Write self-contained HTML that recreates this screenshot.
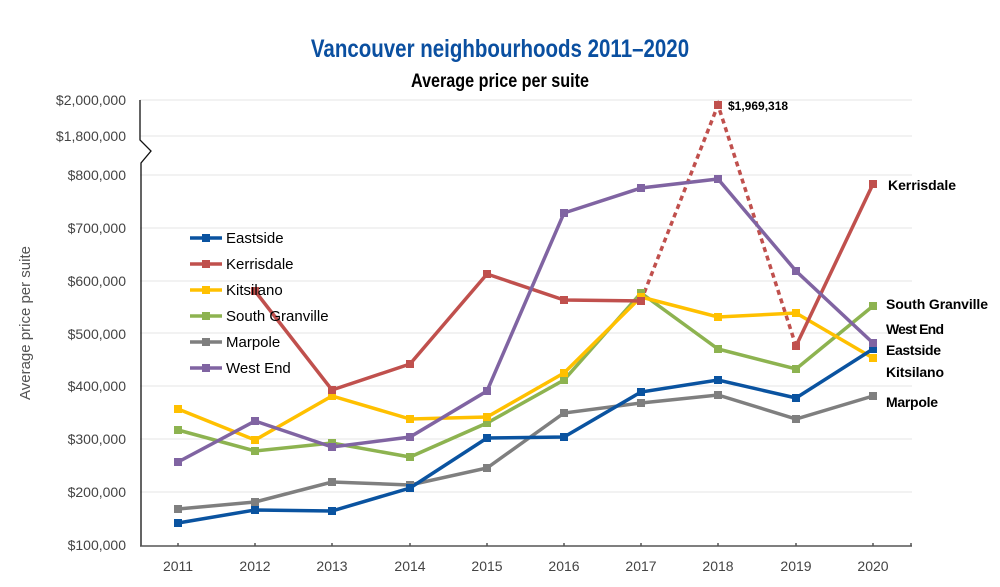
<!DOCTYPE html>
<html><head><meta charset="utf-8"><style>body{margin:0;background:#fff}svg{display:block;font-family:"Liberation Sans",sans-serif}</style></head><body>
<svg width="1000" height="587" viewBox="0 0 1000 587">
<text x="500" y="57" text-anchor="middle" font-size="25" font-weight="bold" fill="#0a4fa0" transform="translate(500 0) scale(0.82 1) translate(-500 0)">Vancouver neighbourhoods 2011–2020</text>
<text x="500" y="87" text-anchor="middle" font-size="19" font-weight="bold" fill="#000" transform="translate(500 0) scale(0.85 1) translate(-500 0)">Average price per suite</text>
<text transform="translate(30 323) rotate(-90)" text-anchor="middle" font-size="15" fill="#555">Average price per suite</text>
<g stroke="#e6e6e6" stroke-width="1">
<line x1="140" y1="100" x2="912" y2="100"/><line x1="140" y1="136" x2="912" y2="136"/><line x1="140" y1="175" x2="912" y2="175"/><line x1="140" y1="228" x2="912" y2="228"/><line x1="140" y1="281" x2="912" y2="281"/><line x1="140" y1="333" x2="912" y2="333"/><line x1="140" y1="386" x2="912" y2="386"/><line x1="140" y1="439" x2="912" y2="439"/><line x1="140" y1="492" x2="912" y2="492"/>
</g>
<g font-size="14" fill="#444" text-anchor="end">
<text x="126" y="105">$2,000,000</text><text x="126" y="141">$1,800,000</text>
<text x="126" y="180">$800,000</text><text x="126" y="233">$700,000</text><text x="126" y="286">$600,000</text>
<text x="126" y="339">$500,000</text><text x="126" y="391">$400,000</text><text x="126" y="444">$300,000</text>
<text x="126" y="497">$200,000</text><text x="126" y="550">$100,000</text>
</g>
<path d="M140 100 L140 140 L151 151 L141 163 L141 546" stroke="#111" stroke-width="1.3" fill="none"/>
<g stroke="#555" stroke-width="1.5"><line x1="140" y1="546" x2="912" y2="546"/>
<path d="M178 546v-3M255 546v-3M332 546v-3M410 546v-3M487 546v-3M564 546v-3M641 546v-3M718 546v-3M796 546v-3M873 546v-3M911 546v-3"/></g>
<g font-size="14" fill="#444" text-anchor="middle">
<text x="178" y="571">2011</text><text x="255" y="571">2012</text><text x="332" y="571">2013</text><text x="410" y="571">2014</text><text x="487" y="571">2015</text><text x="564" y="571">2016</text><text x="641" y="571">2017</text><text x="718" y="571">2018</text><text x="796" y="571">2019</text><text x="873" y="571">2020</text>
</g>
<g fill="none" stroke-width="3.5">
<polyline stroke="#7f7f7f" points="178,509 255,502 332,482 410,485 487,468 564,413 641,403 718,395 796,419 873,396"/>
<polyline stroke="#8db350" points="178,430 255,451 332,443 410,457 487,423 564,380 641,293 718,349 796,369 873,306"/>
<polyline stroke="#ffc000" points="178,409 255,440 332,396 410,419 487,417 564,373 641,297 718,317 796,313 873,358"/>
<polyline stroke="#0a53a0" points="178,523 255,510 332,511 410,488 487,438 564,437 641,392 718,380 796,398 873,349"/>
<polyline stroke="#c0504d" points="255,291 332,390 410,364 487,274 564,300 641,301"/>
<polyline stroke="#c0504d" stroke-dasharray="5,4" points="641,301 718,105 796,346"/>
<polyline stroke="#c0504d" points="796,346 873,184"/>
<polyline stroke="#8064a2" points="178,462 255,421 332,447 410,437 487,391 564,213 641,188 718,179 796,271 873,343"/>
</g>
<g>
<g fill="#7f7f7f"><rect x="174" y="505" width="8" height="8"/><rect x="251" y="498" width="8" height="8"/><rect x="328" y="478" width="8" height="8"/><rect x="406" y="481" width="8" height="8"/><rect x="483" y="464" width="8" height="8"/><rect x="560" y="409" width="8" height="8"/><rect x="637" y="399" width="8" height="8"/><rect x="714" y="391" width="8" height="8"/><rect x="792" y="415" width="8" height="8"/><rect x="869" y="392" width="8" height="8"/></g>
<g fill="#8db350"><rect x="174" y="426" width="8" height="8"/><rect x="251" y="447" width="8" height="8"/><rect x="328" y="439" width="8" height="8"/><rect x="406" y="453" width="8" height="8"/><rect x="483" y="419" width="8" height="8"/><rect x="560" y="376" width="8" height="8"/><rect x="637" y="289" width="8" height="8"/><rect x="714" y="345" width="8" height="8"/><rect x="792" y="365" width="8" height="8"/><rect x="869" y="302" width="8" height="8"/></g>
<g fill="#ffc000"><rect x="174" y="405" width="8" height="8"/><rect x="251" y="436" width="8" height="8"/><rect x="328" y="392" width="8" height="8"/><rect x="406" y="415" width="8" height="8"/><rect x="483" y="413" width="8" height="8"/><rect x="560" y="369" width="8" height="8"/><rect x="637" y="293" width="8" height="8"/><rect x="714" y="313" width="8" height="8"/><rect x="792" y="309" width="8" height="8"/><rect x="869" y="354" width="8" height="8"/></g>
<g fill="#0a53a0"><rect x="174" y="519" width="8" height="8"/><rect x="251" y="506" width="8" height="8"/><rect x="328" y="507" width="8" height="8"/><rect x="406" y="484" width="8" height="8"/><rect x="483" y="434" width="8" height="8"/><rect x="560" y="433" width="8" height="8"/><rect x="637" y="388" width="8" height="8"/><rect x="714" y="376" width="8" height="8"/><rect x="792" y="394" width="8" height="8"/><rect x="869" y="345" width="8" height="8"/></g>
<g fill="#c0504d"><rect x="251" y="287" width="8" height="8"/><rect x="328" y="386" width="8" height="8"/><rect x="406" y="360" width="8" height="8"/><rect x="483" y="270" width="8" height="8"/><rect x="560" y="296" width="8" height="8"/><rect x="637" y="297" width="8" height="8"/><rect x="714" y="101" width="8" height="8"/><rect x="792" y="342" width="8" height="8"/><rect x="869" y="180" width="8" height="8"/></g>
<g fill="#8064a2"><rect x="174" y="458" width="8" height="8"/><rect x="251" y="417" width="8" height="8"/><rect x="328" y="443" width="8" height="8"/><rect x="406" y="433" width="8" height="8"/><rect x="483" y="387" width="8" height="8"/><rect x="560" y="209" width="8" height="8"/><rect x="637" y="184" width="8" height="8"/><rect x="714" y="175" width="8" height="8"/><rect x="792" y="267" width="8" height="8"/><rect x="869" y="339" width="8" height="8"/></g>
</g>
<text x="728" y="110" font-size="12" font-weight="bold">$1,969,318</text>
<g font-size="14" font-weight="bold" fill="#000">
<text x="888" y="190" textLength="68">Kerrisdale</text><text x="886" y="309" textLength="102">South Granville</text><text x="886" y="334" textLength="58">West End</text>
<text x="886" y="355" textLength="55">Eastside</text><text x="886" y="377" textLength="58">Kitsilano</text><text x="886" y="407" textLength="52">Marpole</text>
</g>
<g font-size="15" fill="#000" stroke-width="3.5">
<line x1="190" y1="238" x2="222" y2="238" stroke="#0a53a0"/><rect x="202" y="234" width="8" height="8" fill="#0a53a0"/><text x="226" y="243">Eastside</text>
<line x1="190" y1="264" x2="222" y2="264" stroke="#c0504d"/><rect x="202" y="260" width="8" height="8" fill="#c0504d"/><text x="226" y="269">Kerrisdale</text>
<line x1="190" y1="290" x2="222" y2="290" stroke="#ffc000"/><rect x="202" y="286" width="8" height="8" fill="#ffc000"/><text x="226" y="295">Kitsilano</text>
<line x1="190" y1="316" x2="222" y2="316" stroke="#8db350"/><rect x="202" y="312" width="8" height="8" fill="#8db350"/><text x="226" y="321">South Granville</text>
<line x1="190" y1="342" x2="222" y2="342" stroke="#7f7f7f"/><rect x="202" y="338" width="8" height="8" fill="#7f7f7f"/><text x="226" y="347">Marpole</text>
<line x1="190" y1="368" x2="222" y2="368" stroke="#8064a2"/><rect x="202" y="364" width="8" height="8" fill="#8064a2"/><text x="226" y="373">West End</text>
</g>
</svg>
</body></html>
